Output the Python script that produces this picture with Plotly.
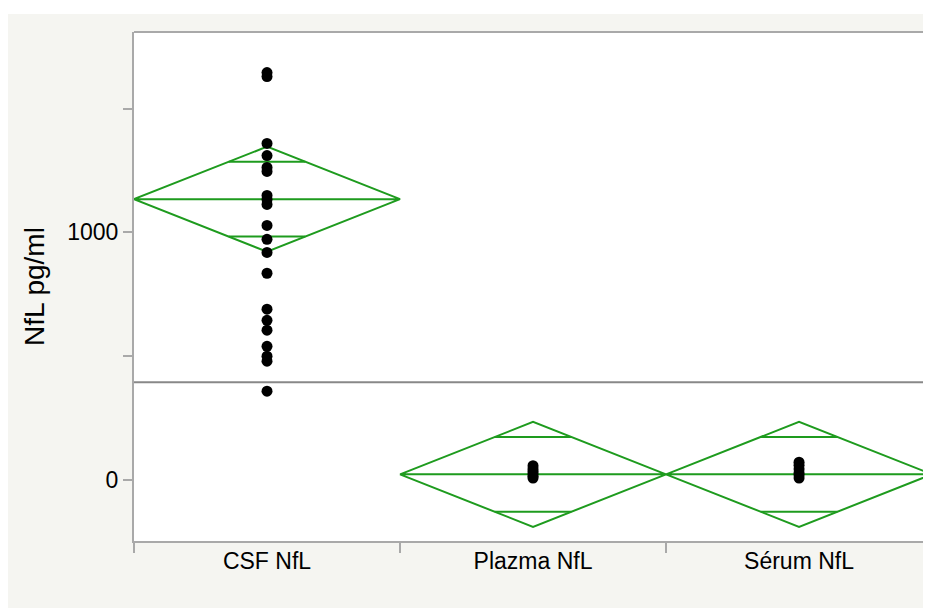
import plotly.graph_objects as go

categories = ["CSF NfL", "Plazma NfL", "Sérum NfL"]
csf_values = [1645, 1629, 1359, 1310, 1262, 1246, 1149, 1133, 1113, 1028, 972, 919,
              835, 690, 645, 605, 540, 500, 480, 359]
plazma_values = [8, 15, 25, 35, 45, 58]
serum_values = [8, 20, 30, 45, 60, 72]
group_means = [1134, 23, 23]
ci_half = [212, 212, 212]
overlap_half = [151, 151, 151]
grand_mean = 395
y_tickvals = [0, 500, 1000, 1500]
y_ticktext = ["0", "", "1000", ""]

GREEN = "#1e9b1e"
AXIS = "#a9a9a9"
BG = "#f5f5f1"
FONT = "Liberation Sans, Arial, sans-serif"

fig = go.Figure()

# means diamonds
for i, (m, c, o) in enumerate(zip(group_means, ci_half, overlap_half)):
    fig.add_trace(go.Scatter(
        x=[i - 0.5, i, i + 0.5, i, i - 0.5, i + 0.5],
        y=[m, m + c, m, m - c, m, m],
        mode="lines", line=dict(color=GREEN, width=2),
        hoverinfo="skip", showlegend=False))
    hw = 0.5 * (1 - o / c)
    for s in (1, -1):
        fig.add_trace(go.Scatter(
            x=[i - hw, i + hw], y=[m + s * o, m + s * o],
            mode="lines", line=dict(color=GREEN, width=2),
            hoverinfo="skip", showlegend=False))

# grand mean line (on boundary-tick axis)
fig.add_trace(go.Scatter(
    x=[-0.5, len(categories) - 0.5], y=[grand_mean, grand_mean],
    xaxis="x2", mode="lines", line=dict(color="#888888", width=2),
    hoverinfo="skip", showlegend=False))

# points
for i, vals in enumerate([csf_values, plazma_values, serum_values]):
    fig.add_trace(go.Scatter(
        x=[i] * len(vals), y=vals, mode="markers",
        marker=dict(color="black", size=11),
        showlegend=False))

rng = [-0.5, len(categories) - 0.5 - 0.004]
fig.update_layout(
    width=923, height=600,
    margin=dict(l=126, r=0, t=24, b=67),
    paper_bgcolor=BG,
    plot_bgcolor="white",
    font=dict(family=FONT, size=23, color="black"),
    xaxis=dict(
        range=rng, tickvals=[0, 1, 2], ticktext=categories,
        ticks="", ticklabelstandoff=-2,
        showline=True, linecolor=AXIS, linewidth=2,
        showgrid=False, zeroline=False,
    ),
    xaxis2=dict(
        range=rng, overlaying="x", anchor="y", side="bottom",
        tickvals=[-0.5, 0.5, 1.5, 2.5], ticks="outside", ticklen=11,
        tickwidth=2, tickcolor=AXIS, showticklabels=False,
        showline=False, showgrid=False, zeroline=False,
    ),
    yaxis=dict(
        range=[-246, 1809], tickvals=y_tickvals, ticktext=y_ticktext,
        ticks="outside", ticklen=9, tickwidth=2, tickcolor=AXIS,
        showline=True, linecolor=AXIS, linewidth=2,
        showgrid=False, zeroline=False,
        title=dict(text="NfL pg/ml", standoff=14),
    ),
    shapes=[
        dict(type="rect", xref="paper", yref="paper",
             x0=-0.2, x1=1.05, y0=1.0354, y1=1.1,
             fillcolor="white", line=dict(width=0), layer="below"),
        dict(type="line", xref="paper", yref="paper",
             x0=0, x1=1.01, y0=1, y1=1,
             line=dict(color=AXIS, width=2)),
    ],
)

fig.write_html("out.html")
